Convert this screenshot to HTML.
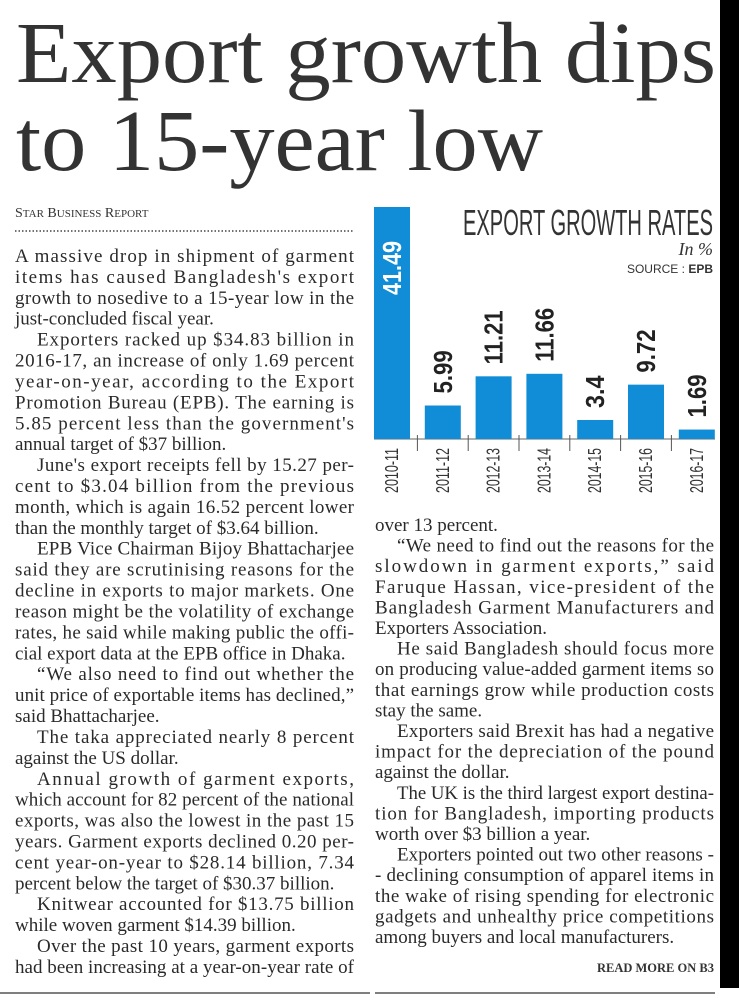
<!DOCTYPE html>
<html><head><meta charset="utf-8"><style>
html,body{margin:0;padding:0;background:#fff;}
svg{display:block;}
</style></head><body>
<svg id="pg" width="739" height="1004" viewBox="0 0 739 1004" xmlns="http://www.w3.org/2000/svg">
<rect x="0" y="0" width="739" height="1004" fill="#fff"/>
<rect x="720" y="0" width="19" height="988" fill="#000"/>
<g font-family="Liberation Serif, serif" fill="#333">
<text x="16" y="82" font-size="87" textLength="700" lengthAdjust="spacingAndGlyphs">Export growth dips</text>
<text x="16" y="170" font-size="87" textLength="527" lengthAdjust="spacingAndGlyphs">to 15-year low</text>
</g>
<text x="15" y="217" font-family="Liberation Serif, serif" font-size="14" fill="#333">S<tspan font-size="11">TAR</tspan> B<tspan font-size="11">USINESS</tspan> R<tspan font-size="11">EPORT</tspan></text>
<line x1="15" y1="231" x2="353" y2="231" stroke="#444" stroke-width="1.5" stroke-dasharray="1.5 2"/>
<g id="body" font-family="Liberation Serif, serif" font-size="19" fill="#2a2a2a"></g>
<text x="714" y="972" text-anchor="end" font-family="Liberation Serif, serif" font-size="12.5" font-weight="bold" fill="#333">READ MORE ON B3</text>
<line x1="0" y1="993" x2="370" y2="993" stroke="#555" stroke-width="1.5"/>
<line x1="375" y1="993" x2="715" y2="993" stroke="#555" stroke-width="1.5"/>
<g id="chart">
<text x="713" y="235" text-anchor="end" font-family="Liberation Sans, sans-serif" font-size="36" fill="#333" textLength="250" lengthAdjust="spacingAndGlyphs">EXPORT GROWTH RATES</text>
<text x="713" y="255" text-anchor="end" font-family="Liberation Serif, serif" font-style="italic" font-size="18" fill="#333">In %</text>
<text x="713" y="273" text-anchor="end" font-family="Liberation Sans, sans-serif" font-size="12" fill="#333">SOURCE : <tspan font-weight="bold">EPB</tspan></text>
</g>
</svg>
<script>
const categories=["2010-11","2011-12","2012-13","2013-14","2014-15","2015-16","2016-17"];
const growthValues=[41.49,5.99,11.21,11.66,3.4,9.72,1.69];
const valueLabels=["41.49","5.99","11.21","11.66","3.4","9.72","1.69"];

const NS="http://www.w3.org/2000/svg";
function mk(tag,attrs,parent){const e=document.createElementNS(NS,tag);for(const k in attrs)e.setAttribute(k,attrs[k]);parent.appendChild(e);return e;}

const chart=document.getElementById('chart');
const baseY=439, pxPerUnit=232/41.49, x0=374, step=50.8, bw=36;
function xPos(i){return x0+i*step;}
function yPos(v){return baseY-v*pxPerUnit;}
mk('line',{x1:374,y1:baseY,x2:715,y2:baseY,stroke:'#666','stroke-width':1},chart);
for(let i=0;i<categories.length;i++){
  const x=xPos(i), y=yPos(growthValues[i]);
  const r=mk('rect',{x:x,y:y,width:bw,height:baseY-y,fill:'#108dd6'},chart);
  
  
  const cx=x+bw/2;
  const lab=valueLabels[i];
  const len=lab.length*10.8;
  let ly, fill;
  if(baseY-y>len+40){ly=y+88;fill='#fff';}else{ly=y-12;fill='#222';}
  const t=mk('text',{x:0,y:0,transform:`translate(${cx+9},${ly}) rotate(-90)`,'font-family':'Liberation Sans, sans-serif','font-weight':'bold','font-size':26,fill:fill,textLength:len,lengthAdjust:'spacingAndGlyphs'},chart);
  t.textContent=lab;
  
  
  const c=mk('text',{x:0,y:0,transform:`translate(${cx+6},${493}) rotate(-90)`,'font-family':'Liberation Sans, sans-serif','font-size':18,fill:'#333',textLength:45,lengthAdjust:'spacingAndGlyphs'},chart);
  c.textContent=categories[i];
  
  
  if(i>0){
    const tx=x-(step-bw)/2;
    const tk=mk('line',{x1:tx,y1:435,x2:tx,y2:451,stroke:'#555','stroke-width':1},chart);
    
    
  }
}

const leftCol=[
["A massive drop in shipment of garment","j"],
["items has caused Bangladesh's export","j"],
["growth to nosedive to a 15-year low in the","j"],
["just-concluded fiscal year.","l"],
["Exporters racked up $34.83 billion in","ji"],
["2016-17, an increase of only 1.69 percent","j"],
["year-on-year, according to the Export","j"],
["Promotion Bureau (EPB). The earning is","j"],
["5.85 percent less than the government's","j"],
["annual target of $37 billion.","l"],
["June's export receipts fell by 15.27 per-","ji"],
["cent to $3.04 billion from the previous","j"],
["month, which is again 16.52 percent lower","j"],
["than the monthly target of $3.64 billion.","l"],
["EPB Vice Chairman Bijoy Bhattacharjee","ji"],
["said they are scrutinising reasons for the","j"],
["decline in exports to major markets. One","j"],
["reason might be the volatility of exchange","j"],
["rates, he said while making public the offi-","j"],
["cial export data at the EPB office in Dhaka.","l"],
["\u201CWe also need to find out whether the","ji"],
["unit price of exportable items has declined,\u201D","j"],
["said Bhattacharjee.","l"],
["The taka appreciated nearly 8 percent","ji"],
["against the US dollar.","l"],
["Annual growth of garment exports,","ji"],
["which account for 82 percent of the national","j"],
["exports, was also the lowest in the past 15","j"],
["years. Garment exports declined 0.20 per-","j"],
["cent year-on-year to $28.14 billion, 7.34","j"],
["percent below the target of $30.37 billion.","l"],
["Knitwear accounted for $13.75 billion","ji"],
["while woven garment $14.39 billion.","l"],
["Over the past 10 years, garment exports","ji"],
["had been increasing at a year-on-year rate of","j"]
];
const rightCol=[
["over 13 percent.","l"],
["\u201CWe need to find out the reasons for the","ji"],
["slowdown in garment exports,\u201D said","j"],
["Faruque Hassan, vice-president of the","j"],
["Bangladesh Garment Manufacturers and","j"],
["Exporters Association.","l"],
["He said Bangladesh should focus more","ji"],
["on producing value-added garment items so","j"],
["that earnings grow while production costs","j"],
["stay the same.","l"],
["Exporters said Brexit has had a negative","ji"],
["impact for the depreciation of the pound","j"],
["against the dollar.","l"],
["The UK is the third largest export destina-","ji"],
["tion for Bangladesh, importing products","j"],
["worth over $3 billion a year.","l"],
["Exporters pointed out two other reasons -","ji"],
["- declining consumption of apparel items in","j"],
["the wake of rising spending for electronic","j"],
["gadgets and unhealthy price competitions","j"],
["among buyers and local manufacturers.","l"]
];
const body=document.getElementById('body');
function layCol(lines,xL,xR,y0,lh,name){
  lines.forEach((ln,i)=>{
    const ind=ln[1].endsWith('i')?22:0;
    const x=xL+ind, w=xR-x;
    const t=mk('text',{x:x,y:(y0+i*lh+6).toFixed(1)},body);
    t.textContent=ln[0];
    const nat=t.getComputedTextLength();
    if(ln[1][0]==='j'||nat>w){
      t.setAttribute('textLength',w);
      t.setAttribute('lengthAdjust',nat>w?'spacingAndGlyphs':'spacing');
    }
    
    
  });
}
layCol(leftCol,15,354,256,20.91,'left-column');
layCol(rightCol,375,714,525,20.6,'right-column');
</script>
</body></html>
